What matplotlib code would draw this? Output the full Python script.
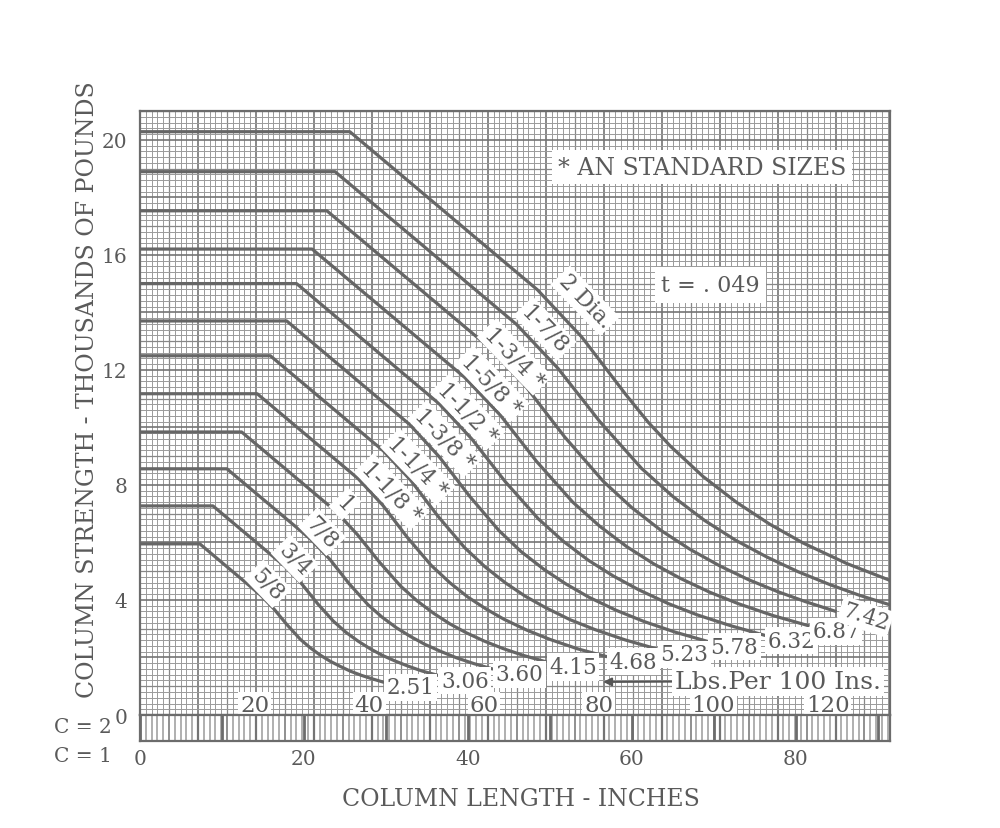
import numpy as np
import matplotlib.pyplot as plt

plt.rcParams['font.family'] = ['DejaVu Serif']

INK = '#5a5a5a'
LINE = '#666666'
C2 = 1.43  # C=2 scale labels: length divisor

# tube sizes (outside dia., t = .049) and weights in lbs per 100 in.
sizes = ['5/8', '3/4', '7/8', '1', '1-1/8 *', '1-1/4 *', '1-3/8 *', '1-1/2 *',
         '1-5/8 *', '1-3/4 *', '1-7/8', '2 Dia.']
weights = ['2.51', '3.06', '3.60', '4.15', '4.68', '5.23', '5.78', '6.32', '6.87', '7.42']

# column length (inches) and column strength (1000 lb)
len_5_8 = [0, 7.3, 14.7, 16.3, 17.9, 19.6, 20.8, 22.0, 23.2, 24.5, 25.7, 27.0, 28.3, 29.6]
str_5_8 = [5.95, 5.95, 4.17, 3.70, 3.15, 2.62, 2.33, 2.08, 1.87, 1.68, 1.52, 1.38, 1.26, 1.15]
len_3_4 = [0, 8.9, 17.7, 19.7, 21.7, 23.6, 25.1, 26.6, 28.1, 29.6, 31.1, 32.7, 34.4, 36.2]
str_3_4 = [7.27, 7.27, 5.16, 4.57, 3.86, 3.26, 2.88, 2.57, 2.30, 2.07, 1.88, 1.70, 1.53, 1.39]
len_7_8 = [0, 10.6, 20.9, 23.2, 25.5, 27.8, 29.5, 31.3, 33.0, 34.8, 36.7, 38.6, 40.7, 42.9]
str_7_8 = [8.56, 8.56, 6.09, 5.40, 4.57, 3.84, 3.41, 3.03, 2.73, 2.45, 2.21, 1.99, 1.79, 1.61]
len_1 = [0, 12.4, 23.9, 26.5, 29.2, 31.8, 33.8, 35.8, 37.8, 39.8, 42.0, 44.3, 46.8, 49.4]
str_1 = [9.84, 9.84, 7.08, 6.28, 5.32, 4.48, 3.97, 3.54, 3.17, 2.86, 2.57, 2.31, 2.07, 1.86]
len_1_1_8 = [0, 14.3, 26.6, 29.6, 32.6, 35.5, 37.8, 40.0, 42.2, 44.4, 47.2, 50.0, 53.4, 56.8]
str_1_1_8 = [11.17, 11.17, 8.22, 7.30, 6.18, 5.21, 4.60, 4.10, 3.69, 3.33, 2.95, 2.63, 2.30, 2.04]
len_1_1_4 = [0, 15.9, 29.7, 33.0, 36.3, 39.6, 42.1, 44.6, 47.0, 49.5, 52.5, 55.5, 59.2, 63.0]
str_1_1_4 = [12.49, 12.49, 9.18, 8.17, 6.93, 5.82, 5.15, 4.59, 4.13, 3.73, 3.31, 2.97, 2.61, 2.30]
len_1_3_8 = [0, 17.9, 32.9, 36.5, 40.2, 43.8, 46.5, 49.3, 52.0, 54.8, 58.1, 61.5, 65.3, 69.1]
str_1_3_8 = [13.70, 13.70, 10.10, 8.98, 7.61, 6.41, 5.68, 5.06, 4.55, 4.09, 3.64, 3.25, 2.88, 2.57]
len_1_1_2 = [0, 19.1, 36.5, 40.5, 44.6, 48.6, 51.6, 54.7, 57.7, 60.8, 64.4, 68.0, 72.0, 76.1]
str_1_1_2 = [15.00, 15.00, 10.82, 9.59, 8.10, 6.82, 6.05, 5.38, 4.84, 4.36, 3.88, 3.48, 3.11, 2.78]
len_1_5_8 = [0, 21.0, 39.6, 44.0, 48.4, 52.8, 56.1, 59.4, 62.7, 66.0, 69.5, 73.0, 77.2, 81.5]
str_1_5_8 = [16.20, 16.20, 11.74, 10.41, 8.81, 7.40, 6.56, 5.85, 5.25, 4.74, 4.27, 3.87, 3.46, 3.11]
len_1_3_4 = [0, 22.8, 42.4, 47.1, 51.8, 56.5, 60.0, 63.6, 67.1, 70.7, 74.2, 77.7, 81.2, 84.8]
str_1_3_4 = [17.53, 17.53, 12.83, 11.41, 9.67, 8.13, 7.21, 6.41, 5.76, 5.19, 4.71, 4.30, 3.94, 3.61]
len_1_7_8 = [0, 23.8, 45.9, 51.0, 56.1, 61.2, 65.0, 68.9, 72.7, 76.5, 80.3, 84.2, 87.8, 91.5]
str_1_7_8 = [18.89, 18.89, 13.59, 12.05, 10.20, 8.57, 7.60, 6.76, 6.07, 5.49, 4.98, 4.53, 4.16, 3.83]
len_2 = [0, 25.6, 48.5, 53.9, 59.3, 62.0, 64.7, 68.7, 72.8, 76.8, 80.9, 86.2, 91.5]
str_2 = [20.28, 20.28, 14.78, 13.14, 11.13, 10.18, 9.35, 8.29, 7.39, 6.64, 5.98, 5.27, 4.68]

curve_lengths = [len_5_8, len_3_4, len_7_8, len_1, len_1_1_8, len_1_1_4,
                 len_1_3_8, len_1_1_2, len_1_5_8, len_1_3_4, len_1_7_8, len_2]
curve_strengths = [str_5_8, str_3_4, str_7_8, str_1, str_1_1_8, str_1_1_4,
                   str_1_3_8, str_1_1_2, str_1_5_8, str_1_3_4, str_1_7_8, str_2]

c1_ticks = [0, 20, 40, 60, 80]
c2_ticks = [20, 40, 60, 80, 100, 120]
y_ticks = [0, 4, 8, 12, 16, 20]

# where the size tags sit along the sloping part of each curve
size_tag_pos = [(15.6, 4.56), (18.9, 5.43), (22.2, 6.37), (25.0, 7.34),
                (30.7, 7.76), (33.9, 8.63), (37.2, 9.60), (40.0, 10.54),
                (42.9, 11.51), (45.7, 12.45), (49.4, 13.43), (54.3, 14.40)]

XMAX, YMAX = 91.5, 21.0

fig = plt.figure(figsize=(10, 8.29), dpi=100)
ax = fig.add_axes([0.140, 0.1363, 0.750, 0.7286])
strip = fig.add_axes([0.140, 0.1049, 0.750, 0.0314], sharex=ax)

# graph paper
minor = 1 / 2 ** 0.5
for i, x in enumerate(np.arange(0, XMAX + 0.01, minor)):
    if i % 10 == 0:
        lw, col = 1.2, '#747474'
    elif i % 5 == 0:
        lw, col = 0.9, '#878787'
    else:
        lw, col = 0.7, '#9a9a9a'
    ax.axvline(x, lw=lw, color=col, zorder=0)
    strip.axvline(x, lw=lw + 0.4, color=col, zorder=0)
for i, y in enumerate(np.arange(0, YMAX + 0.01, 0.2)):
    if i % 10 == 0:
        lw, col = 1.2, '#747474'
    elif i % 5 == 0:
        lw, col = 0.9, '#878787'
    else:
        lw, col = 0.7, '#9a9a9a'
    ax.axhline(y, lw=lw, color=col, zorder=0)
for x in range(0, 100, 10):
    strip.axvline(x, lw=2.0, color='#6c6c6c', zorder=1)

# column strength curves
for L, P in zip(curve_lengths, curve_strengths):
    ax.plot(L, P, color=LINE, lw=2.3, solid_joinstyle='round', zorder=3)

box = dict(boxstyle='square,pad=0.12', fc='white', ec='none')

for name, (tx, ty) in zip(sizes, size_tag_pos):
    ax.text(tx, ty, name, rotation=-46, rotation_mode='anchor', ha='center',
            va='center', fontsize=16, color=INK, bbox=box, zorder=5)

for k, w in enumerate(weights):
    rot = -18 if w == '7.42' else 0
    ax.annotate(w, (curve_lengths[k][-1], curve_strengths[k][-1]),
                xytext=(3, -4), textcoords='offset points', ha='left',
                va='center', fontsize=15.5, color=INK, bbox=box, rotation=rot,
                zorder=5)

ax.annotate('Lbs.Per 100 Ins.', xy=(56.5, 1.15), xytext=(77.8, 1.18),
            ha='center', va='center', fontsize=18, color=INK, bbox=box,
            arrowprops=dict(arrowstyle='-|>', color='#555555', lw=1.5,
                            shrinkA=0, shrinkB=0, mutation_scale=12),
            zorder=5)

for v in c2_ticks:
    ax.text(v / C2, 0.36, str(v), ha='center', va='center', fontsize=16.5,
            color=INK, bbox=dict(boxstyle='square,pad=0.08', fc='white', ec='none'),
            zorder=5)

ax.text(68.6, 19.05, '* AN STANDARD SIZES', ha='center', va='center',
        fontsize=17, color=INK, bbox=dict(boxstyle='square,pad=0.25', fc='white', ec='none'),
        zorder=5)
ax.text(69.6, 14.95, 't = . 049', ha='center', va='center', fontsize=16,
        color=INK, bbox=dict(boxstyle='square,pad=0.3', fc='white', ec='none'),
        zorder=5)

ax.set_xlim(0, XMAX)
ax.set_ylim(0, YMAX)
ax.set_yticks(y_ticks)
ax.set_yticklabels([str(v) for v in y_ticks], fontsize=14.5, color=INK)
ax.tick_params(axis='y', length=0, pad=9)
ax.tick_params(axis='x', length=0, labelbottom=False)
for s in ax.spines.values():
    s.set_color('#6c6c6c')
    s.set_linewidth(1.6)

strip.set_ylim(0, 1)
strip.set_yticks([])
strip.set_xticks(c1_ticks)
strip.set_xticklabels([str(v) for v in c1_ticks], fontsize=14.5, color=INK)
strip.tick_params(axis='x', length=0, pad=6)
for s in strip.spines.values():
    s.set_color('#6c6c6c')
    s.set_linewidth(1.6)

fig.text(0.083, 0.122, 'C = 2', ha='center', va='center', fontsize=14.5, color=INK)
fig.text(0.083, 0.087, 'C = 1', ha='center', va='center', fontsize=14.5, color=INK)

fig.text(0.088, 0.530, 'COLUMN STRENGTH - THOUSANDS OF POUNDS', rotation=90,
         ha='center', va='center', fontsize=17, color=INK)
fig.text(0.521, 0.035, 'COLUMN LENGTH - INCHES', ha='center', va='center',
         fontsize=17, color=INK)

fig.savefig('out.png', dpi=100, facecolor='white')
